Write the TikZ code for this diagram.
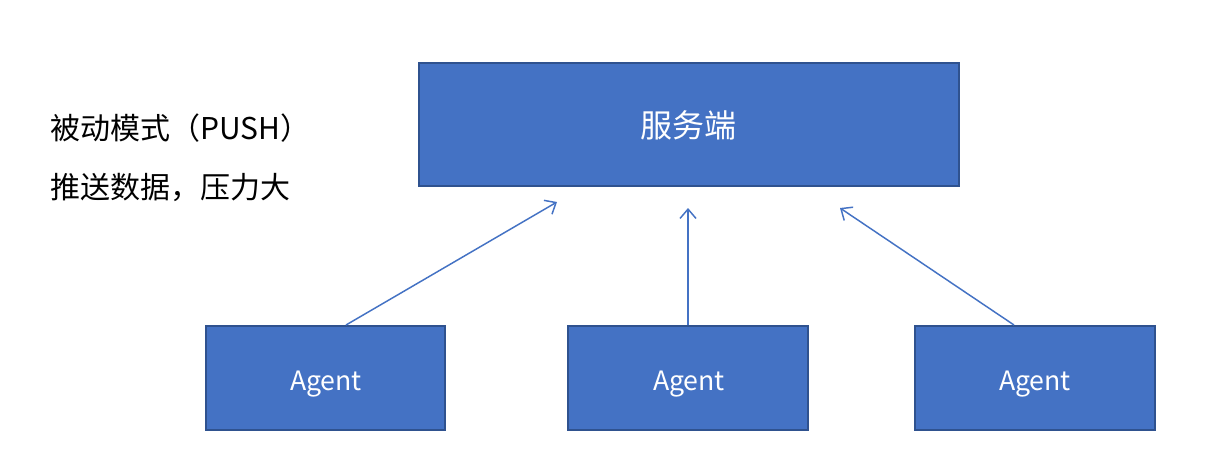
\documentclass[tikz,border=0pt]{standalone}
\usepackage{fontspec}
\setmainfont{Noto Sans CJK SC}
\usetikzlibrary{arrows.meta}
\definecolor{boxfill}{HTML}{4472C4}
\definecolor{boxline}{HTML}{2F528F}
\definecolor{arrowc}{HTML}{4472C4}
\tikzset{
  bluebox/.style={draw=boxline, fill=boxfill, line width=1.5pt, inner sep=0pt},
  boxtxt/.style={text=white, inner sep=0pt},
  arr/.style={draw=arrowc, line width=1.1pt, -{Straight Barb[length=7pt,width=12pt,line width=1.1pt]}},
  lbl/.style={anchor=west, inner sep=0pt, font=\fontsize{22.5pt}{26pt}\selectfont}
}
\begin{document}
\begin{tikzpicture}[x=0.75pt,y=-0.75pt]
\useasboundingbox[fill=white] (0,0) rectangle (1231,471);
\node[bluebox, minimum width=405pt, minimum height=92pt] (srv) at (688.5,124.5) {};
\node[boxtxt, font=\fontsize{24pt}{28pt}\selectfont] (srvt) at (688.5,125) {服务端};
\node[bluebox, minimum width=179pt, minimum height=78pt] (a1) at (325.5,378) {};
\node[bluebox, minimum width=180pt, minimum height=78pt] (a2) at (688,378) {};
\node[bluebox, minimum width=180pt, minimum height=78pt] (a3) at (1035,378) {};
\node[boxtxt, font=\fontsize{20pt}{24pt}\selectfont] (a1t) at (326,384) {Agent};
\node[boxtxt, font=\fontsize{20pt}{24pt}\selectfont] (a2t) at (689,384) {Agent};
\node[boxtxt, font=\fontsize{20pt}{24pt}\selectfont] (a3t) at (1035,384) {Agent};
\coordinate (t1) at (557,202);
\coordinate (t2) at (688,208);
\coordinate (t3) at (840,208);
\draw[arr] (a1.north -| 346,0) -- (t1);
\draw[arr] (a2.north) -- (t2);
\draw[arr] (a3.north -| 1014,0) -- (t3);
\node[lbl] (l1) at (50,128) {被动模式（PUSH）};
\node[lbl] (l2) at (50,187) {推送数据，压力大};
\end{tikzpicture}
\end{document}
